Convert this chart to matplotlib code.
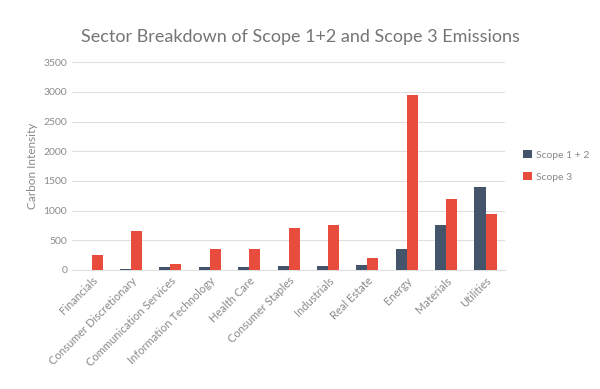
import matplotlib.pyplot as plt
import numpy as np

sectors = ["Financials", "Consumer Discretionary", "Communication Services",
           "Information Technology", "Health Care", "Consumer Staples",
           "Industrials", "Real Estate", "Energy", "Materials", "Utilities"]
scope12 = [5, 20, 50, 50, 50, 60, 75, 80, 350, 750, 1400]
scope3 = [250, 650, 100, 350, 350, 700, 750, 200, 2950, 1200, 950]

plt.rcParams['font.family'] = ['Lato', 'DejaVu Sans']
grey = '#8a8a8a'

fig = plt.figure(figsize=(6, 3.89), dpi=100)
ax = fig.add_axes([0.12, 0.306, 0.722, 0.534])

x = np.arange(len(sectors))
w = 0.28
ax.bar(x - w / 2, scope12, w, color='#44546a', label='Scope 1 + 2', zorder=3)
ax.bar(x + w / 2, scope3, w, color='#e84c3d', label='Scope 3', zorder=3)

ax.set_xlim(-0.5, len(sectors) - 0.5)
ax.set_ylim(0, 3500)
ax.set_yticks(range(0, 3501, 500))
ax.grid(axis='y', color='#e0e0e0', linewidth=0.8, zorder=0)
for s in ['top', 'right', 'left']:
    ax.spines[s].set_visible(False)
ax.spines['bottom'].set_color('#e0e0e0')
ax.tick_params(axis='both', length=0, colors=grey, labelsize=7.5)
ax.tick_params(axis='x', labelsize=8)
ax.set_xticks(x)
ax.set_xticklabels(sectors, rotation=45, ha='right', rotation_mode='anchor')
ax.set_ylabel('Carbon Intensity', color=grey, fontsize=8.5)

fig.suptitle('Sector Breakdown of Scope 1+2 and Scope 3 Emissions',
             x=0.5, y=0.925, color='#757575', fontsize=13)

leg = ax.legend(loc='center left', bbox_to_anchor=(1.02, 0.5), frameon=False,
                fontsize=7.5, handlelength=0.8, handleheight=0.8,
                handletextpad=0.4, labelspacing=1.2)
for t in leg.get_texts():
    t.set_color(grey)

fig.savefig('out.png', dpi=100)
